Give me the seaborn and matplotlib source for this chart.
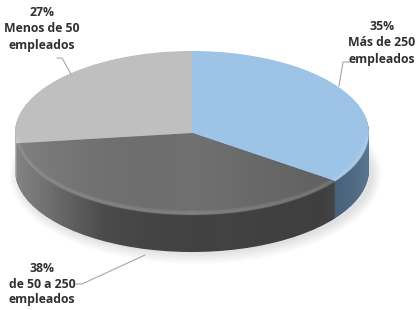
import numpy as np
import seaborn as sns
import matplotlib
matplotlib.use('Agg')
import matplotlib.pyplot as plt
from matplotlib.patches import Ellipse, Polygon

sns.set_theme(style='white')
plt.rcParams['font.family'] = ['Open Sans', 'DejaVu Sans']

# data
labels = ['Más de 250\nempleados', 'de 50 a 250\nempleados', 'Menos de 50\nempleados']
shares = [35, 38, 27]
top_colors = ['#9DC3E6', '#707070', '#BFBFBF']
side_colors = ['#46627E', '#424242', '#8C8C8C']

# pie geometry in pixels (picture is 420 x 310)
CX, CY, RX, RY = 192, 133, 177, 82
DEPTH = 37


def px(x, y):
    return ((x - CX) / RX, (CY - y) / RY)


def hgrad(ax, clip, stops, extent):
    # horizontal shading laid over a patch
    xs = np.linspace(0, 1, 200)
    rgba = np.zeros((2, 200, 4))
    for ch in range(4):
        rgba[:, :, ch] = np.interp(xs, stops[0], [s[ch] for s in stops[1]])
    im = ax.imshow(rgba, extent=extent, aspect='auto', zorder=clip.get_zorder() + 0.1,
                   interpolation='bilinear')
    im.set_clip_path(clip)


fig = plt.figure(figsize=(4.2, 3.1), dpi=100)
ax = fig.add_axes([0, 0, 1, 1])
d = DEPTH / RY

# soft shadow under the pie
for k in range(6):
    sh = Ellipse((0.02, -d - 0.06), 2 * (1.0 + 0.01 * k), 2 * (0.96 + 0.025 * k),
                 color='#000000', alpha=0.02, lw=0, zorder=0)
    ax.add_patch(sh)

# side of the pie: stacked layers
n = 50
for i in range(n, 0, -1):
    ax.pie(shares, colors=side_colors, startangle=90, counterclock=False, radius=1,
           center=(0, -d * i / n), wedgeprops=dict(linewidth=0, zorder=1), frame=True)

# shading of the side band (lighter on the left, darker on the right)
t = np.linspace(np.pi, 2 * np.pi, 200)
band = np.vstack([np.c_[np.cos(t), np.sin(t)], np.c_[np.cos(t[::-1]), np.sin(t[::-1]) - d]])
side_patch = Polygon(band, closed=True, transform=ax.transData, zorder=1)
hgrad(ax, side_patch, ([0, 0.25, 0.6, 0.85, 1.0],
                       [(1, 1, 1, 0.35), (1, 1, 1, 0.05), (0, 0, 0, 0.0), (0, 0, 0, 0.05),
                        (1, 1, 1, 0.12)]),
      (-1, 1, -1 - d, 0))

# top face
wedges, _ = ax.pie(shares, colors=top_colors, startangle=90, counterclock=False, radius=1,
                   center=(0, 0), wedgeprops=dict(linewidth=0, zorder=3), frame=True)
hgrad(ax, wedges[1], ([0, 0.5, 1.0],
                      [(1, 1, 1, 0.12), (0, 0, 0, 0.0), (0, 0, 0, 0.18)]),
      (-1, 1, -1, 0.1))

# soft bevel along the front edge
tt = np.linspace(np.pi * 1.02, np.pi * 1.98, 200)
for w, a in [(4.0, 0.05), (2.0, 0.07)]:
    ax.plot(np.cos(tt) * 0.99, np.sin(tt) * 0.975, color='white', alpha=a, lw=w,
            zorder=4, solid_capstyle='round')

x0, y1 = px(0, 0)
x1, y0 = px(420, 310)
ax.set_xlim(x0, x1)
ax.set_ylim(y0, y1)
ax.set_aspect('auto')
ax.axis('off')

# labels with leader lines
lab_style = dict(ha='center', va='center', fontsize=8.8, fontweight='bold',
                 color='#303030', linespacing=1.3, zorder=6)
line_style = dict(color='#A6A6A6', lw=0.8, zorder=5)

ax.text(*px(42, 29), f'{shares[2]}%\n{labels[2]}', **lab_style)
ax.plot(*zip(px(57, 58), px(62, 58), px(71, 74)), **line_style)

ax.text(*px(382, 43), f'{shares[0]}%\n{labels[0]}', **lab_style)
ax.plot(*zip(px(351, 62), px(343, 62), px(339, 86)), **line_style)

ax.text(*px(42, 284), f'{shares[1]}%\n{labels[1]}', **lab_style)
ax.plot(*zip(px(76, 284), px(82, 284), px(145, 255)), **line_style)

fig.savefig('out.png', dpi=100)
